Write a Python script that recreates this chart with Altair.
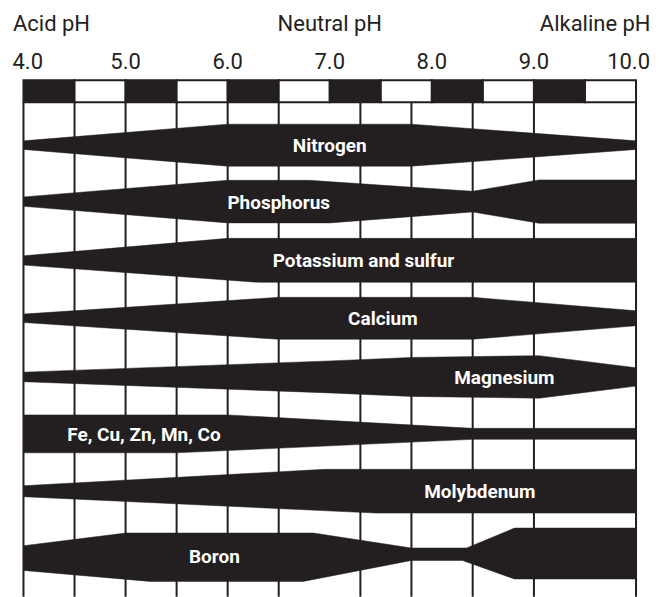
import altair as alt
import pandas as pd

INK = "#231f20"
FONT = "Roboto, 'Liberation Sans', sans-serif"

# ---- header ----
tick_ph = [4.0, 5.0, 6.0, 7.0, 8.0, 9.0, 10.0]
tick_labels = ["4.0", "5.0", "6.0", "7.0", "8.0", "9.0", "10.0"]
zone_ph = [4.0, 7.0, 10.0]
zone_labels = ["Acid pH", "Neutral pH", "Alkaline pH"]
checker_start = [4.0, 4.5, 5.0, 5.5, 6.0, 6.5, 7.0, 7.5, 8.0, 8.5, 9.0, 9.5]
checker_end = [4.5, 5.0, 5.5, 6.0, 6.5, 7.0, 7.5, 8.0, 8.5, 9.0, 9.5, 10.0]
checker_shade = ["dark", "light"] * 6

# ---- grid ----
grid_ph = [4.0, 4.5, 5.0, 5.5, 6.0, 6.5, 7.3, 7.8, 8.4, 9.0, 10.0]

# ---- bands ----
nutrients = ["Nitrogen", "Phosphorus", "Potassium and sulfur", "Calcium",
             "Magnesium", "Fe, Cu, Zn, Mn, Co", "Molybdenum", "Boron"]
band_center = [43, 99.5, 158.3, 216.3, 275, 332, 389.4, 454]
label_ph = [7.0, 6.5, 7.33, 7.52, 8.71, 5.18, 8.47, 5.87]

upper_ph = {
    "Nitrogen": [4.0, 6.0, 7.8, 10.0],
    "Phosphorus": [4.0, 6.0, 6.8, 8.4, 9.05, 10.0],
    "Potassium and sulfur": [4.0, 6.0, 10.0],
    "Calcium": [4.0, 6.5, 8.4, 10.0],
    "Magnesium": [4.0, 7.0, 7.8, 9.05, 10.0],
    "Fe, Cu, Zn, Mn, Co": [4.0, 6.0, 8.4, 10.0],
    "Molybdenum": [4.0, 6.95, 10.0],
    "Boron": [4.0, 5.0, 6.84, 7.8, 8.34, 8.81, 10.0],
}
upper_hw = {
    "Nitrogen": [4.3, 21, 21, 4.3],
    "Phosphorus": [4.7, 21.3, 21.3, 10.3, 21.7, 21.7],
    "Potassium and sulfur": [4.5, 22, 22],
    "Calcium": [4.2, 21, 21, 7.5],
    "Magnesium": [4.8, 16, 19.5, 21.3, 9.2],
    "Fe, Cu, Zn, Mn, Co": [19, 19, 5.5, 5.5],
    "Molybdenum": [5.5, 21.9, 21.9],
    "Boron": [10, 22.7, 22.7, 7.7, 7.7, 27.7, 27.7],
}
lower_ph = {
    "Nitrogen": [4.0, 6.0, 7.8, 10.0],
    "Phosphorus": [4.0, 6.0, 7.0, 8.4, 9.05, 10.0],
    "Potassium and sulfur": [4.0, 6.3, 10.0],
    "Calcium": [4.0, 6.5, 8.4, 10.0],
    "Magnesium": [4.0, 7.0, 7.8, 9.05, 10.0],
    "Fe, Cu, Zn, Mn, Co": [4.0, 5.5, 8.4, 10.0],
    "Molybdenum": [4.0, 7.45, 10.0],
    "Boron": [4.0, 5.24, 6.74, 7.8, 8.3, 8.81, 10.0],
}
lower_hw = {
    "Nitrogen": [4.3, 21, 21, 4.3],
    "Phosphorus": [4.7, 21.3, 21.3, 10.3, 21.7, 21.7],
    "Potassium and sulfur": [4.7, 22, 22],
    "Calcium": [4.2, 21, 21, 7.5],
    "Magnesium": [4.8, 16, 19.5, 21.3, 9.2],
    "Fe, Cu, Zn, Mn, Co": [19, 19, 5.5, 5.5],
    "Molybdenum": [5.5, 21.9, 21.9],
    "Boron": [14.7, 25.7, 25.7, 4.7, 4.7, 23.3, 23.3],
}

rows = []
for name, c in zip(nutrients, band_center):
    for p, h in zip(upper_ph[name], upper_hw[name]):
        rows.append({"key": name + " upper", "ph": p, "top": c - h, "base": c + 0.6})
    for p, h in zip(lower_ph[name], lower_hw[name]):
        rows.append({"key": name + " lower", "ph": p, "top": c - 0.6, "base": c + h})
band_df = pd.DataFrame(rows)
label_df = pd.DataFrame({"name": nutrients, "ph": label_ph, "pos": band_center})
grid_df = pd.DataFrame({"ph": grid_ph})
checker_df = pd.DataFrame({"ph": checker_start, "ph_end": checker_end, "shade": checker_shade})
tick_df = pd.DataFrame({"ph": tick_ph, "label": tick_labels})
zone_df = pd.DataFrame({"ph": zone_ph, "label": zone_labels})

W, H = 613.2, 495
xs = alt.Scale(domain=[4, 10], nice=False, zero=False)
ys = alt.Scale(domain=[H, 0], nice=False, zero=False)
X = alt.X("ph:Q", scale=xs, axis=None)

grid = alt.Chart(grid_df).mark_rule(color=INK, strokeWidth=2).encode(x=X)

bands = alt.Chart(band_df).mark_area(fill=INK, stroke=INK, strokeWidth=0.5, opacity=1, orient="vertical").encode(
    x=X,
    y=alt.Y("top:Q", scale=ys, axis=None),
    y2=alt.Y2("base:Q"),
    detail=alt.Detail("key:N"),
)

labels = alt.Chart(label_df).mark_text(
    color="white", font=FONT, fontWeight="bold", fontSize=19, baseline="middle", dy=1
).encode(x=X, y=alt.Y("pos:Q", scale=ys, axis=None), text="name:N")

checker = alt.Chart(checker_df).mark_rect(stroke=INK, strokeWidth=2).encode(
    x=X, x2="ph_end:Q",
    y=alt.value(-22), y2=alt.value(0),
    fill=alt.Fill("shade:N", scale=alt.Scale(domain=["dark", "light"], range=[INK, "#ffffff"]), legend=None),
)

def header_text(df, y, first_dx, last_dx):
    out = []
    for cond, align, dx in [("datum.ph == 4", "left", first_dx),
                            ("datum.ph > 4 && datum.ph < 10", "center", 0),
                            ("datum.ph == 10", "right", last_dx)]:
        out.append(
            alt.Chart(df).transform_filter(cond).mark_text(
                font=FONT, fontSize=22, color=INK, baseline="alphabetic", align=align, dx=dx
            ).encode(x=X, y=alt.value(y), text="label:N")
        )
    return out

layers = [grid, bands, labels, checker] + header_text(tick_df, -33.7, -11, 14) + header_text(zone_df, -71.5, -10.5, 14.5)

chart = alt.layer(*layers).properties(
    width=W, height=H,
    padding={"left": 15.5, "top": 94, "right": 24, "bottom": 0},
    autosize="none",
).configure_view(stroke=None)

chart.save("out.html", embed_options={"renderer": "svg", "actions": False})
